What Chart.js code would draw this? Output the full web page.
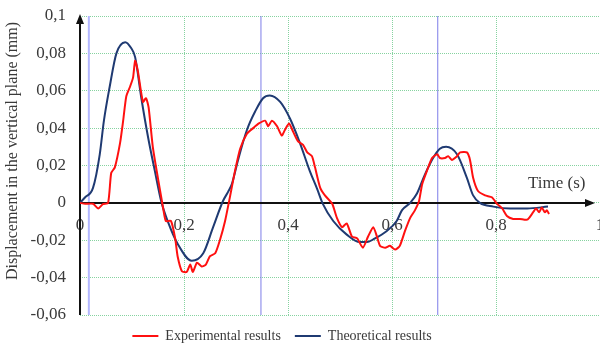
<!DOCTYPE html>
<html lang="en">
<head>
<meta charset="UTF-8">
<title>Displacement in the vertical plane</title>
<script src="https://cdn.jsdelivr.net/npm/chart.js"></script>
<style>
    body {
        margin: 0;
        background: #fff;
        overflow: hidden;
    }

    .chart-container {
        position: relative;
        width: 600px;
        height: 347px;
    }
</style>
</head>
<body>
<div class="chart-container">
    <canvas id="disp-chart"></canvas>
</div>

<script>
// experimental results (time in s, displacement in mm)
const expTime = [
    0, 0.01, 0.025, 0.035, 0.044, 0.054, 0.06, 0.067, 0.077, 0.083,
    0.089, 0.096, 0.102, 0.106, 0.111, 0.121, 0.127, 0.132, 0.140, 0.150,
    0.160, 0.165, 0.175, 0.183, 0.188, 0.196, 0.205, 0.212, 0.217, 0.225,
    0.234, 0.242, 0.25, 0.26, 0.269, 0.279, 0.288, 0.298, 0.308, 0.321,
    0.333, 0.344, 0.356, 0.362, 0.369, 0.379, 0.388, 0.394, 0.402, 0.41,
    0.419, 0.429, 0.437, 0.446, 0.452, 0.462, 0.471, 0.485, 0.494, 0.504,
    0.513, 0.523, 0.533, 0.544, 0.554, 0.564, 0.571, 0.577, 0.587, 0.596,
    0.606, 0.615, 0.625, 0.635, 0.644, 0.652, 0.658, 0.667, 0.677, 0.687,
    0.692, 0.702, 0.708, 0.715, 0.725, 0.731, 0.744, 0.75, 0.756, 0.765,
    0.779, 0.792, 0.802, 0.812, 0.821, 0.833, 0.846, 0.86, 0.869, 0.877,
    0.883, 0.888, 0.894, 0.898, 0.902
];
const expDisp = [
    0, -0.0005, -0.0005, -0.003, -0.0007, 0, 0.016, 0.019, 0.032, 0.044,
    0.057, 0.062, 0.067, 0.076, 0.071, 0.054, 0.056, 0.051, 0.030, 0.013,
    -0.003, -0.0097, -0.0097, -0.019, -0.029, -0.0366, -0.037, -0.033, -0.037, -0.032,
    -0.034, -0.033, -0.0285, -0.027, -0.020, -0.0097, 0.0027, 0.017, 0.029, 0.037,
    0.040, 0.0425, 0.044, 0.041, 0.044, 0.041, 0.036, 0.039, 0.0425, 0.038,
    0.033, 0.031, 0.027, 0.025, 0.019, 0.008, 0.004, -0.0005, -0.008, -0.013,
    -0.011, -0.018, -0.019, -0.024, -0.018, -0.013, -0.018, -0.023, -0.024, -0.023,
    -0.025, -0.023, -0.015, -0.008, -0.004, 0.001, 0.010, 0.017, 0.024, 0.026,
    0.024, 0.024, 0.025, 0.023, 0.025, 0.027, 0.027, 0.023, 0.0134, 0.0065,
    0.004, 0.003, -0.0005, -0.003, -0.007, -0.0086, -0.0086, -0.009, -0.006, -0.003,
    -0.005, -0.0025, -0.005, -0.004, -0.006
];

// theoretical results
const theoTime = [
    0, 0.01, 0.025, 0.038, 0.046, 0.057, 0.070, 0.087, 0.098, 0.106,
    0.118, 0.131, 0.144, 0.156, 0.169, 0.188, 0.215, 0.237, 0.256,
    0.275, 0.285, 0.292, 0.304, 0.321, 0.337, 0.352, 0.365, 0.385, 0.404,
    0.423, 0.442, 0.456, 0.467, 0.487, 0.513, 0.538, 0.552, 0.564, 0.59,
    0.609, 0.619, 0.635, 0.648, 0.663, 0.679, 0.692, 0.704, 0.725, 0.744,
    0.756, 0.769, 0.795, 0.827, 0.86, 0.9
];
const theoDisp = [
    0, 0.003, 0.008, 0.026, 0.044, 0.062, 0.080, 0.086, 0.083, 0.078,
    0.056, 0.035, 0.017, 0.001, -0.010, -0.022, -0.031, -0.027, -0.013,
    0.001, 0.006, 0.010, 0.023, 0.039, 0.049, 0.056, 0.0575, 0.054, 0.045,
    0.032, 0.017, 0.0075, -0.0005, -0.0097, -0.017, -0.021, -0.021, -0.0195, -0.015,
    -0.0097, -0.004, 0, 0.005, 0.015, 0.024, 0.029, 0.030, 0.026, 0.0134,
    0.004, 0, -0.002, -0.003, -0.003, -0.002
];

// vertical marker lines (s)
const markerTimes = [0.017, 0.348, 0.688];

const xMin = 0, xMax = 1, xStep = 0.2;
const yMin = -0.06, yMax = 0.1, yStep = 0.02;

const serif = '"Liberation Serif", "Times New Roman", serif';
const textColor = '#3a3a3a';
const gridColor = '#86d3a0';

const toPoints = (ts, vs) => ts.map((t, i) => ({ x: t, y: vs[i] }));
const commaNum = v => String(Math.round(v * 1000) / 1000).replace('.', ',');

const axisDecor = {
    id: 'axisDecor',
    beforeDatasetsDraw(chart) {
        const { ctx, chartArea: a, scales: { x, y } } = chart;
        ctx.save();

        markerTimes.forEach((t, i) => {
            const px = x.getPixelForValue(t);
            ctx.beginPath();
            ctx.strokeStyle = i === 0 ? '#b3b7ff' : '#7d7de8';
            ctx.lineWidth = i === 0 ? 2 : 1;
            ctx.moveTo(px, a.top);
            ctx.lineTo(px, a.bottom);
            ctx.stroke();
        });

        const y0 = y.getPixelForValue(0);
        ctx.strokeStyle = '#111';
        ctx.fillStyle = '#111';
        ctx.lineWidth = 2;
        ctx.beginPath();
        ctx.moveTo(a.left, a.bottom);
        ctx.lineTo(a.left, a.top + 4);
        ctx.moveTo(a.left, y0);
        ctx.lineTo(a.right - 10, y0);
        ctx.stroke();

        // arrow heads
        ctx.beginPath();
        ctx.moveTo(a.left, a.top - 2);
        ctx.lineTo(a.left - 4, a.top + 8);
        ctx.lineTo(a.left + 4, a.top + 8);
        ctx.closePath();
        ctx.fill();
        ctx.beginPath();
        ctx.moveTo(a.right - 5, y0);
        ctx.lineTo(a.right - 15, y0 - 4);
        ctx.lineTo(a.right - 15, y0 + 4);
        ctx.closePath();
        ctx.fill();
        ctx.restore();
    },
    afterDraw(chart) {
        const { ctx, scales: { y } } = chart;
        ctx.save();
        ctx.fillStyle = textColor;
        ctx.font = '17px ' + serif;
        ctx.textAlign = 'left';
        ctx.textBaseline = 'middle';
        ctx.fillText('Time (s)', 528, y.getPixelForValue(0) - 19);

        ctx.translate(13, 151);
        ctx.rotate(-Math.PI / 2);
        ctx.textAlign = 'center';
        ctx.font = '16px ' + serif;
        ctx.fillText('Displacement in the vertical plane (mm)', 0, 0);
        ctx.restore();
    },
    afterUpdate(chart) {
        // legend sits a little left of the canvas centre
        chart.legend.left -= 18;
        chart.legend.right -= 18;
    }
};

document.addEventListener('DOMContentLoaded', () => {
    const ctx = document.getElementById('disp-chart').getContext('2d');

    new Chart(ctx, {
        type: 'line',
        data: {
            datasets: [
                {
                    label: 'Experimental results',
                    data: toPoints(expTime, expDisp),
                    borderColor: '#ff1010',
                    backgroundColor: '#ff1010',
                    borderWidth: 2,
                    pointRadius: 0,
                    tension: 0.2
                },
                {
                    label: 'Theoretical results',
                    data: toPoints(theoTime, theoDisp),
                    borderColor: '#1f3a72',
                    backgroundColor: '#1f3a72',
                    borderWidth: 2,
                    pointRadius: 0,
                    cubicInterpolationMode: 'monotone'
                }
            ]
        },
        options: {
            responsive: true,
            maintainAspectRatio: false,
            animation: false,
            layout: {
                padding: { top: 16, right: 0, bottom: 0, left: 0 }
            },
            plugins: {
                tooltip: { enabled: false },
                legend: {
                    position: 'bottom',
                    maxHeight: 32,
                    labels: {
                        usePointStyle: true,
                        pointStyle: 'line',
                        pointStyleWidth: 26,
                        padding: 14,
                        color: textColor,
                        font: { family: serif, size: 14 }
                    }
                }
            },
            scales: {
                x: {
                    type: 'linear',
                    position: { y: 0 },
                    min: xMin,
                    max: xMax,
                    afterFit(scale) {
                        scale.paddingLeft = 0;
                        scale.paddingRight = 0;
                    },
                    ticks: {
                        stepSize: xStep,
                        padding: 12,
                        color: textColor,
                        font: { family: serif, size: 17 },
                        callback: v => commaNum(v)
                    },
                    grid: {
                        color: gridColor,
                        lineWidth: 1,
                        drawTicks: false
                    },
                    border: { display: false, dash: [1, 1] }
                },
                y: {
                    min: yMin,
                    max: yMax,
                    afterFit(scale) {
                        scale.width = 80;
                        scale.paddingTop = 0;
                        scale.paddingBottom = 0;
                    },
                    ticks: {
                        stepSize: yStep,
                        padding: 14,
                        color: textColor,
                        font: { family: serif, size: 17 },
                        callback: v => commaNum(v)
                    },
                    grid: {
                        color: gridColor,
                        lineWidth: 1,
                        drawTicks: false
                    },
                    border: { display: false, dash: [1, 1] }
                }
            }
        },
        plugins: [axisDecor]
    });
});
</script>
</body>
</html>
